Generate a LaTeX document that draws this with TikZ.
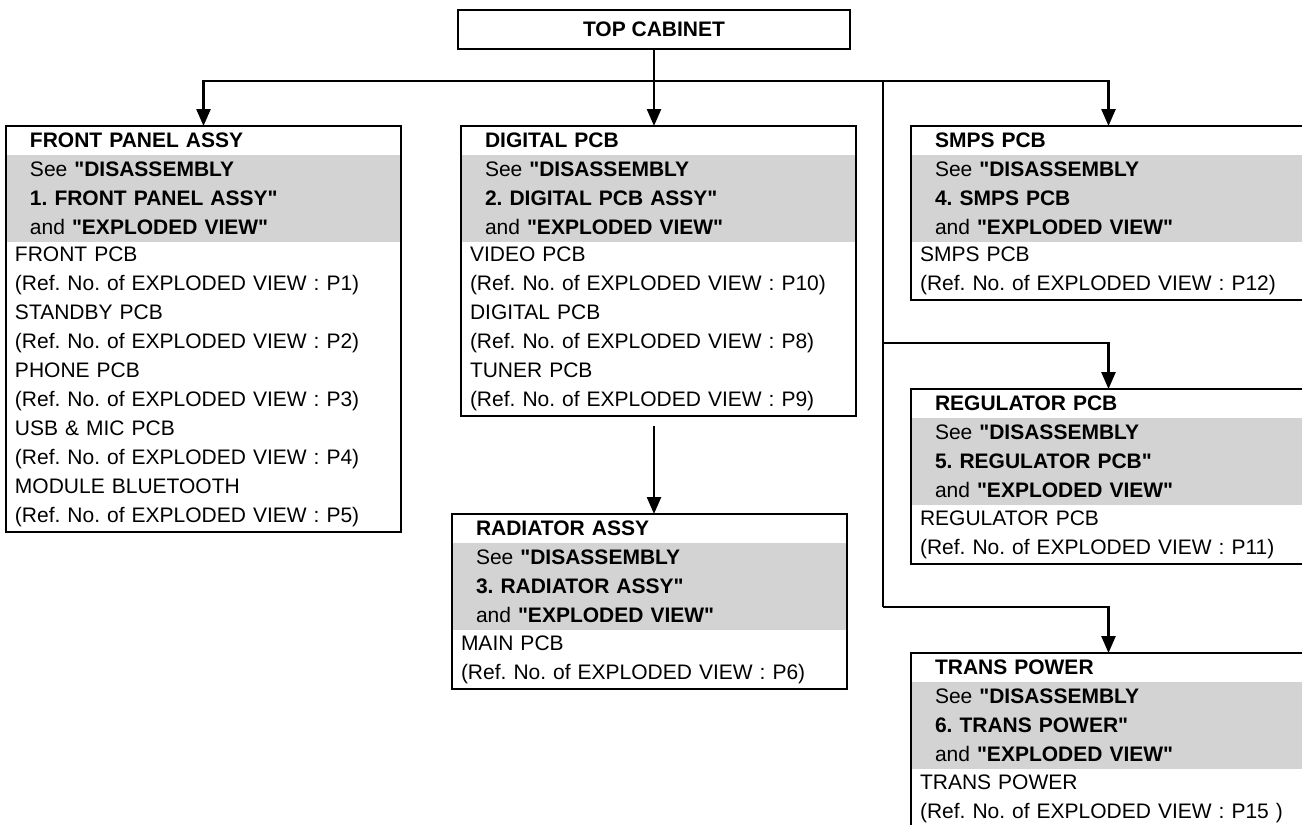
\documentclass[tikz,border=0pt]{standalone}
\usepackage{fontspec}
\setmainfont{Liberation Sans}[Ligatures=TeXOff]
\usetikzlibrary{arrows.meta,positioning}
\definecolor{bandgray}{RGB}{211,211,211}
\frenchspacing

\begin{document}
\begin{tikzpicture}[x=1pt, y=1pt, >={Triangle[length=17pt,width=14pt]}, line width=2.5pt,
  font=\fontsize{21}{29}\selectfont,
  row/.style={anchor=north west, outer sep=0pt, inner ysep=0pt, align=left},
  headrow/.style={row, inner xsep=24pt, text width=347pt, minimum height=29pt},
  seerow/.style={headrow, fill=bandgray, minimum height=87pt},
  partrow/.style={row, inner xsep=9pt, text width=377pt}]
  \useasboundingbox (0,0) rectangle (1302,-825);
  \clip (0,0) rectangle (1302,-825);

  \node[draw, font=\fontsize{21}{29}\selectfont\bfseries, minimum width=392pt,
        minimum height=39pt, inner sep=0pt] (top) at (654,-29.5) {TOP CABINET};

  % front panel assy
  \node[headrow] (fpT) at (6,-126) {\textbf{FRONT PANEL ASSY}};
  \node[seerow, below=0pt of fpT] (fpS) {See \textbf{"DISASSEMBLY}\\
    \textbf{1. FRONT PANEL ASSY"}\\and \textbf{"EXPLODED VIEW"}};
  \node[partrow, minimum height=290pt, below=0pt of fpS] (fpL) {FRONT PCB\\
    (Ref. No. of EXPLODED VIEW : P1)\\STANDBY PCB\\
    (Ref. No. of EXPLODED VIEW : P2)\\PHONE PCB\\
    (Ref. No. of EXPLODED VIEW : P3)\\USB \& MIC PCB\\
    (Ref. No. of EXPLODED VIEW : P4)\\MODULE BLUETOOTH\\
    (Ref. No. of EXPLODED VIEW : P5)};
  \draw (fpT.north west) rectangle (fpL.south east);

  % digital pcb
  \node[headrow] (dgT) at (461,-126) {\textbf{DIGITAL PCB}};
  \node[seerow, below=0pt of dgT] (dgS) {See \textbf{"DISASSEMBLY}\\
    \textbf{2. DIGITAL PCB ASSY"}\\and \textbf{"EXPLODED VIEW"}};
  \node[partrow, minimum height=174pt, below=0pt of dgS] (dgL) {VIDEO PCB\\
    (Ref. No. of EXPLODED VIEW : P10)\\DIGITAL PCB\\
    (Ref. No. of EXPLODED VIEW : P8)\\TUNER PCB\\
    (Ref. No. of EXPLODED VIEW : P9)};
  \draw (dgT.north west) rectangle (dgL.south east);

  % radiator assy
  \node[headrow] (raT) at (452,-514) {\textbf{RADIATOR ASSY}};
  \node[seerow, below=0pt of raT] (raS) {See \textbf{"DISASSEMBLY}\\
    \textbf{3. RADIATOR ASSY"}\\and \textbf{"EXPLODED VIEW"}};
  \node[partrow, minimum height=59pt, below=0pt of raS] (raL) {MAIN PCB\\
    (Ref. No. of EXPLODED VIEW : P6)};
  \draw (raT.north west) rectangle (raL.south east);

  % smps pcb
  \node[headrow] (smT) at (911,-126) {\textbf{SMPS PCB}};
  \node[seerow, below=0pt of smT] (smS) {See \textbf{"DISASSEMBLY}\\
    \textbf{4. SMPS PCB}\\and \textbf{"EXPLODED VIEW"}};
  \node[partrow, minimum height=58pt, below=0pt of smS] (smL) {SMPS PCB\\
    (Ref. No. of EXPLODED VIEW : P12)};
  \draw (smT.north west) rectangle (smL.south east);

  % regulator pcb
  \node[headrow] (rgT) at (911,-389) {\textbf{REGULATOR PCB}};
  \node[seerow, below=0pt of rgT] (rgS) {See \textbf{"DISASSEMBLY}\\
    \textbf{5. REGULATOR PCB"}\\and \textbf{"EXPLODED VIEW"}};
  \node[partrow, minimum height=59pt, below=0pt of rgS] (rgL) {REGULATOR PCB\\
    (Ref. No. of EXPLODED VIEW : P11)};
  \draw (rgT.north west) rectangle (rgL.south east);

  % trans power
  \node[headrow] (trT) at (911,-653) {\textbf{TRANS POWER}};
  \node[seerow, below=0pt of trT] (trS) {See \textbf{"DISASSEMBLY}\\
    \textbf{6. TRANS POWER"}\\and \textbf{"EXPLODED VIEW"}};
  \node[partrow, minimum height=59pt, below=0pt of trS] (trL) {TRANS POWER\\
    (Ref. No. of EXPLODED VIEW : P15 )};
  \draw (trT.north west) rectangle (trL.south east);

  % connectors
  \coordinate (split) at (654,-81);
  \coordinate (trunk) at (883,-81);
  \coordinate (rgfork) at (883,-343);
  \coordinate (trfork) at (883,-607);

  \draw (top) -- (split);
  \draw[->] (split) -| (fpT.north);
  \draw[->] (split) -| (smT.north);
  \draw[->] (split) -- (split |- dgT.north);
  \draw[->, shorten <=10pt] (dgL.south -| split) -- (split |- raT.north);
  \draw (trunk) -- (trfork);
  \draw[->] (rgfork) -| (rgT.north);
  \draw[->] (trfork) -| (trT.north);
\end{tikzpicture}
\end{document}
